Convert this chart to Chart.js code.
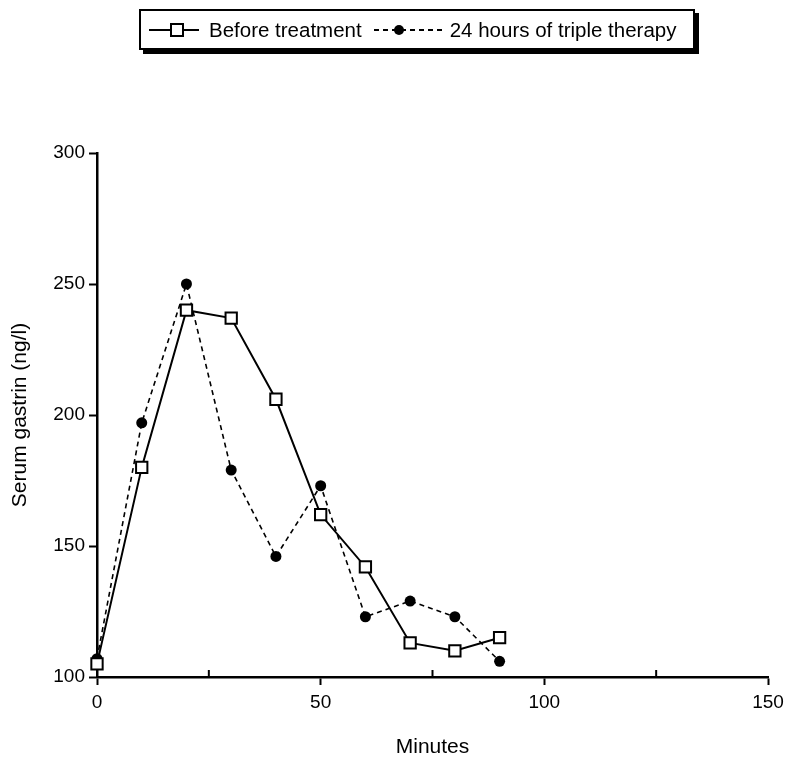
<!DOCTYPE html>
<html>
<head>
<meta charset="utf-8">
<script src="https://cdn.jsdelivr.net/npm/chart.js@4"></script>
<style>
  body { margin: 0; background: #fff; }
  #wrap { position: relative; width: 787px; height: 760px; }
  #legend {
    position: absolute; left: 139px; top: 9px; width: 546px; height: 37px;
    border: 2px solid #000; box-shadow: 4px 4px 0 #000; background: #fff;
    display: flex; align-items: center; padding-left: 6px;
    font-family: "Liberation Sans", Arial, sans-serif; font-size: 20.5px; color: #000;
  }
  #legend svg { display: block; }
  #legend span { white-space: nowrap; }
</style>
</head>
<body>
<div id="wrap">
  <canvas id="gastrinChart" width="787" height="760"></canvas>
  <div id="legend">
    <svg width="54" height="20"><line x1="2" y1="10" x2="52" y2="10" stroke="#000" stroke-width="2"/><rect x="24" y="4" width="12" height="12" fill="#fff" stroke="#000" stroke-width="2"/></svg>
    <span style="margin-left:8px">Before treatment</span>
    <svg width="74" height="20" style="margin-left:10px"><line x1="2" y1="10" x2="72" y2="10" stroke="#000" stroke-width="2" stroke-dasharray="5,4"/><circle cx="27" cy="10" r="5" fill="#000"/></svg>
    <span style="margin-left:4px">24 hours of triple therapy</span>
  </div>
</div>
<script>
// Serum gastrin after meal
const minutes = [0, 10, 20, 30, 40, 50, 60, 70, 80, 90];
const beforeTreatment = [105, 180, 240, 237, 206, 162, 142, 113, 110, 115];
const tripleTherapy = [107, 197, 250, 179, 146, 173, 123, 129, 123, 106];
const xTicks = [0, 50, 100, 150];
const xMinorTicks = [25, 75, 125];

const font = { family: "'Liberation Sans', Arial, sans-serif", size: 19 };
const titleFont = { family: font.family, size: 21 };

// small inward ticks at 25, 75, 125 on the x axis
const minorTicks = {
  id: "minorTicks",
  afterDraw(chart) {
    const ctx = chart.ctx;
    const x = chart.scales.x;
    ctx.save();
    ctx.strokeStyle = "#000";
    ctx.lineWidth = 2;
    xMinorTicks.forEach(v => {
      const px = x.getPixelForValue(v);
      ctx.beginPath();
      ctx.moveTo(px, x.top);
      ctx.lineTo(px, x.top - 7);
      ctx.stroke();
    });
    ctx.restore();
  }
};

const ctx = document.getElementById("gastrinChart").getContext("2d");
new Chart(ctx, {
  type: "line",
  data: {
    datasets: [
      {
        label: "Before treatment",
        data: minutes.map((m, i) => ({ x: m, y: beforeTreatment[i] })),
        borderColor: "#000",
        borderWidth: 2,
        pointStyle: "rect",
        pointRadius: 8,
        pointBackgroundColor: "#fff",
        pointBorderColor: "#000",
        pointBorderWidth: 2,
        tension: 0,
        clip: false
      },
      {
        label: "24 hours of triple therapy",
        data: minutes.map((m, i) => ({ x: m, y: tripleTherapy[i] })),
        borderColor: "#000",
        borderWidth: 1.6,
        borderDash: [5, 4],
        pointStyle: "circle",
        pointRadius: 5.5,
        pointBackgroundColor: "#000",
        pointBorderColor: "#000",
        pointBorderWidth: 0,
        tension: 0,
        clip: false
      }
    ]
  },
  options: {
    responsive: false,
    animation: false,
    layout: { padding: { top: 153, right: 19, bottom: 0, left: 0 } },
    plugins: {
      legend: { display: false },
      tooltip: { enabled: false }
    },
    scales: {
      x: {
        type: "linear",
        min: 0,
        max: 150,
        afterFit: s => { s.height = 83; s.paddingRight = 0; s.paddingLeft = 0; },
        afterBuildTicks: s => { s.ticks = [0, 25, 50, 75, 100, 125, 150].map(v => ({ value: v })); },
        border: { display: true, color: "#000", width: 2.5 },
        grid: {
          drawOnChartArea: false,
          tickLength: 8,
          tickWidth: 2,
          tickColor: c => (c.tick && xTicks.includes(c.tick.value)) ? "#000" : "rgba(0,0,0,0)"
        },
        ticks: {
          autoSkip: false,
          maxRotation: 0,
          padding: 6,
          color: "#000",
          font: font,
          callback: v => xTicks.includes(v) ? String(v) : ""
        },
        title: {
          display: true,
          text: "Minutes",
          color: "#000",
          font: titleFont,
          padding: { top: 16, bottom: 0 }
        }
      },
      y: {
        min: 100,
        max: 300,
        afterFit: s => { s.width = 97; },
        border: { display: true, color: "#000", width: 2.5 },
        grid: {
          drawOnChartArea: false,
          tickLength: 8,
          tickWidth: 2,
          tickColor: "#000"
        },
        ticks: {
          stepSize: 50,
          padding: 4,
          color: "#000",
          font: font
        },
        title: {
          display: true,
          text: "Serum gastrin (ng/l)",
          color: "#000",
          font: titleFont,
          padding: { top: 8, bottom: 0 }
        }
      }
    }
  },
  plugins: [minorTicks]
});
</script>
</body>
</html>
